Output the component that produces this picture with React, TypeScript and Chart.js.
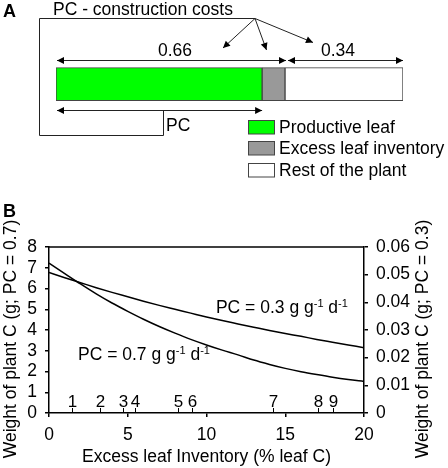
import React, { useEffect, useRef } from 'react';
import { Chart, registerables } from 'chart.js';

Chart.register(...registerables);

const FONT = 'Arial, "Liberation Sans", sans-serif';

// ---------- Panel A data ----------
const segmentLabels = ['Productive leaf', 'Excess leaf inventory', 'Rest of the plant'];
const segmentValues = [0.594, 0.066, 0.34];
const segmentColors = ['#00ff00', '#999999', '#ffffff'];
const spanLabels = ['0.66', '0.34'];
const panelATitle = 'PC - construction costs';

// ---------- Panel B data ----------
const excessInventory = [0, 1, 2, 3, 4, 5, 6, 7, 8, 9, 10, 11, 12, 13, 14, 15, 16, 17, 18, 19, 20];
const plantWeightPC07 = [7.22, 6.72, 6.22, 5.74, 5.3, 4.9, 4.52, 4.17, 3.85, 3.55, 3.28, 3.03, 2.8, 2.55, 2.34, 2.15, 1.99, 1.85, 1.72, 1.61, 1.52];
const plantWeightPC03 = [0.0508, 0.0489, 0.0471, 0.0453, 0.0436, 0.042, 0.0404, 0.0389, 0.0375, 0.0361, 0.0347, 0.0334, 0.0322, 0.031, 0.0298, 0.0287, 0.0277, 0.0266, 0.0256, 0.0246, 0.0236];
const markerPositions = [1.48, 3.22, 4.7, 5.49, 8.16, 9.11, 14.23, 17.09, 18.04];
const markerLabels = ['1', '2', '3', '4', '5', '6', '7', '8', '9'];
const xTitle = 'Excess leaf Inventory (% leaf C)';
const yLeftTitle = 'Weight of plant C (g; PC = 0.7)';
const yRightTitle = 'Weight of plant C (g; PC = 0.3)';

function arrowHead(ctx: CanvasRenderingContext2D, fx: number, fy: number, tx: number, ty: number) {
  const ang = Math.atan2(ty - fy, tx - fx);
  const len = 7;
  const hw = 3.5;
  ctx.beginPath();
  ctx.moveTo(tx, ty);
  ctx.lineTo(tx - len * Math.cos(ang) + hw * Math.sin(ang), ty - len * Math.sin(ang) - hw * Math.cos(ang));
  ctx.lineTo(tx - len * Math.cos(ang) - hw * Math.sin(ang), ty - len * Math.sin(ang) + hw * Math.cos(ang));
  ctx.closePath();
  ctx.fill();
}

function arrow(ctx: CanvasRenderingContext2D, fx: number, fy: number, tx: number, ty: number, both = false) {
  ctx.beginPath();
  ctx.moveTo(fx, fy);
  ctx.lineTo(tx, ty);
  ctx.stroke();
  arrowHead(ctx, fx, fy, tx, ty);
  if (both) arrowHead(ctx, tx, ty, fx, fy);
}

const panelAPlugin = {
  id: 'panelA',
  afterDraw(chart: any) {
    const ctx: CanvasRenderingContext2D = chart.ctx;
    const xs = chart.scales.x;
    const x0 = xs.getPixelForValue(0);
    const xPC = xs.getPixelForValue(segmentValues[0]);
    const x66 = xs.getPixelForValue(segmentValues[0] + segmentValues[1]);
    const x1 = xs.getPixelForValue(1);
    ctx.save();
    ctx.fillStyle = '#000';
    ctx.strokeStyle = '#222';
    ctx.lineWidth = 1;
    // Panel letter
    ctx.font = `bold 18px ${FONT}`;
    ctx.textBaseline = 'top';
    ctx.textAlign = 'left';
    ctx.fillText('A', 3, 3);
    // Title
    ctx.font = `17.5px ${FONT}`;
    ctx.textBaseline = 'middle';
    ctx.fillText(panelATitle, 53, 10);
    // Bracket
    ctx.beginPath();
    ctx.moveTo(163.5, 110);
    ctx.lineTo(163.5, 135.5);
    ctx.lineTo(39.5, 135.5);
    ctx.lineTo(39.5, 18.5);
    ctx.lineTo(255, 18.5);
    ctx.stroke();
    // Arrows from bracket corner
    arrow(ctx, 255, 18.5, 223, 48);
    arrow(ctx, 255, 18.5, 266.5, 50);
    arrow(ctx, 255, 18.5, 313, 42.5);
    // Span arrows
    arrow(ctx, x0 + 1, 60.5, x66 + 1, 60.5, true);
    arrow(ctx, x66 + 3, 60.5, x1, 60.5, true);
    arrow(ctx, x0 + 1, 110.5, xPC, 110.5, true);
    ctx.font = `17.5px ${FONT}`;
    ctx.textAlign = 'center';
    ctx.textBaseline = 'alphabetic';
    ctx.fillText(spanLabels[0], 175, 56);
    ctx.fillText(spanLabels[1], 338, 56);
    ctx.textAlign = 'left';
    ctx.fillText('PC', 166, 131);
    // Legend
    const rowsY = [120.5, 141.5, 163.5];
    segmentLabels.forEach((lab, i) => {
      ctx.fillStyle = segmentColors[i];
      ctx.fillRect(248.5, rowsY[i], 26, 13.5);
      ctx.strokeStyle = '#444';
      ctx.strokeRect(248.5, rowsY[i], 26, 13.5);
      ctx.fillStyle = '#000';
      ctx.textBaseline = 'middle';
      ctx.fillText(lab, 279, rowsY[i] + 7.5);
    });
    ctx.restore();
  },
};

function drawSupText(ctx: CanvasRenderingContext2D, parts: [string, boolean][], x: number, y: number) {
  let cx = x;
  parts.forEach(([t, sup]) => {
    ctx.font = sup ? `11px ${FONT}` : `17.5px ${FONT}`;
    ctx.fillText(t, cx, sup ? y - 6 : y);
    cx += ctx.measureText(t).width;
  });
}

const panelBPlugin = {
  id: 'panelB',
  afterDraw(chart: any) {
    const ctx: CanvasRenderingContext2D = chart.ctx;
    const xs = chart.scales.x;
    const ys = chart.scales.y;
    const { left, right, top, bottom } = chart.chartArea;
    ctx.save();
    ctx.fillStyle = '#000';
    ctx.strokeStyle = '#000';
    ctx.lineWidth = 1.5;
    // top frame line
    ctx.beginPath();
    ctx.moveTo(left, top);
    ctx.lineTo(right, top);
    ctx.stroke();
    // marker ticks
    ctx.lineWidth = 1;
    ctx.font = `17px ${FONT}`;
    ctx.textAlign = 'center';
    ctx.textBaseline = 'alphabetic';
    markerPositions.forEach((p, i) => {
      const px = Math.round(xs.getPixelForValue(p)) + 0.5;
      ctx.beginPath();
      ctx.moveTo(px, bottom);
      ctx.lineTo(px, bottom - 5);
      ctx.stroke();
      ctx.fillText(markerLabels[i], px, bottom - 6.5);
    });
    // panel letter
    ctx.font = `bold 18px ${FONT}`;
    ctx.textAlign = 'left';
    ctx.textBaseline = 'top';
    ctx.fillText('B', 3, 3);
    // axis titles
    ctx.font = `17.5px ${FONT}`;
    ctx.textAlign = 'center';
    ctx.textBaseline = 'alphabetic';
    ctx.fillText(xTitle, (left + right) / 2, bottom + 48.5);
    ctx.textBaseline = 'middle';
    const midY = (top + bottom) / 2 + 9;
    ctx.save();
    ctx.translate(11, midY);
    ctx.rotate(-Math.PI / 2);
    ctx.fillText(yLeftTitle, 0, 0);
    ctx.restore();
    ctx.save();
    ctx.translate(423, midY);
    ctx.rotate(-Math.PI / 2);
    ctx.fillText(yRightTitle, 0, 0);
    ctx.restore();
    // inline series labels
    ctx.textAlign = 'left';
    ctx.textBaseline = 'alphabetic';
    drawSupText(ctx, [['PC = 0.3 g g', false], ['-1', true], [' d', false], ['-1', true]], xs.getPixelForValue(10.6), ys.getPixelForValue(4.84));
    drawSupText(ctx, [['PC = 0.7 g g', false], ['-1', true], [' d', false], ['-1', true]], xs.getPixelForValue(1.84), ys.getPixelForValue(2.55));
    ctx.restore();
  },
};

function PanelA() {
  const ref = useRef<HTMLCanvasElement>(null);
  useEffect(() => {
    if (!ref.current) return;
    const chart = new Chart(ref.current, {
      type: 'bar',
      data: {
        labels: ['plant'],
        datasets: segmentLabels.map((lab, i) => ({
          label: lab,
          data: [segmentValues[i]],
          backgroundColor: segmentColors[i],
          borderColor: '#444',
          borderWidth: 1,
          borderSkipped: false,
          barThickness: 33,
        })),
      },
      options: {
        indexAxis: 'y',
        responsive: false,
        animation: false,
        events: [],
        layout: { padding: { left: 56, right: 45, top: 60, bottom: 91.6 } },
        plugins: { legend: { display: false }, tooltip: { enabled: false } },
        scales: {
          x: { type: 'linear', min: 0, max: 1, stacked: true, display: false },
          y: { stacked: true, display: false },
        },
      },
      plugins: [panelAPlugin],
    } as any);
    return () => chart.destroy();
  }, []);
  return <canvas ref={ref} width={448} height={200} style={{ position: 'absolute', left: 0, top: 0 }} />;
}

function PanelB() {
  const ref = useRef<HTMLCanvasElement>(null);
  useEffect(() => {
    if (!ref.current) return;
    const tickFont = { family: FONT, size: 17.5 };
    const grid = { drawOnChartArea: false, drawTicks: true, tickLength: 4, color: '#000', lineWidth: 1.5 };
    const border = { display: true, color: '#000', width: 1.5 };
    const chart = new Chart(ref.current, {
      type: 'line',
      data: {
        datasets: [
          {
            label: 'PC = 0.7',
            data: excessInventory.map((x, i) => ({ x, y: plantWeightPC07[i] })),
            yAxisID: 'y',
            borderColor: '#000',
            borderWidth: 1.5,
            pointRadius: 0,
            tension: 0.4,
            cubicInterpolationMode: 'monotone',
            fill: false,
          },
          {
            label: 'PC = 0.3',
            data: excessInventory.map((x, i) => ({ x, y: plantWeightPC03[i] })),
            yAxisID: 'y2',
            borderColor: '#000',
            borderWidth: 1.5,
            pointRadius: 0,
            tension: 0.4,
            cubicInterpolationMode: 'monotone',
            fill: false,
          },
        ],
      },
      options: {
        responsive: false,
        animation: false,
        events: [],
        layout: { padding: { top: 47, left: 0, right: 0, bottom: 0 } },
        plugins: { legend: { display: false }, tooltip: { enabled: false } },
        scales: {
          x: {
            type: 'linear',
            min: 0,
            max: 20,
            ticks: { stepSize: 5, autoSkip: false, color: '#000', font: tickFont, padding: 8, maxRotation: 0 },
            grid,
            border,
            afterFit: (s: any) => { s.height = 55; },
          },
          y: {
            position: 'left',
            min: 0,
            max: 8,
            ticks: { stepSize: 1, autoSkip: false, color: '#000', font: tickFont, padding: 8 },
            grid,
            border,
            afterFit: (s: any) => { s.width = 49; },
          },
          y2: {
            position: 'right',
            min: 0,
            max: 0.06,
            ticks: {
              stepSize: 0.01,
              autoSkip: false,
              color: '#000',
              font: tickFont,
              padding: 8,
              callback: (v: number) => (Math.abs(v) < 1e-9 ? '0' : v.toFixed(2)),
            },
            grid,
            border,
            afterFit: (s: any) => { s.width = 84; },
          },
        },
      },
      plugins: [panelBPlugin],
    } as any);
    return () => chart.destroy();
  }, []);
  return <canvas ref={ref} width={448} height={268} style={{ position: 'absolute', left: 0, top: 200 }} />;
}

export default function App() {
  return (
    <div style={{ position: 'absolute', left: 0, top: 0, width: 448, height: 468, background: '#fff' }}>
      <PanelA />
      <PanelB />
    </div>
  );
}
